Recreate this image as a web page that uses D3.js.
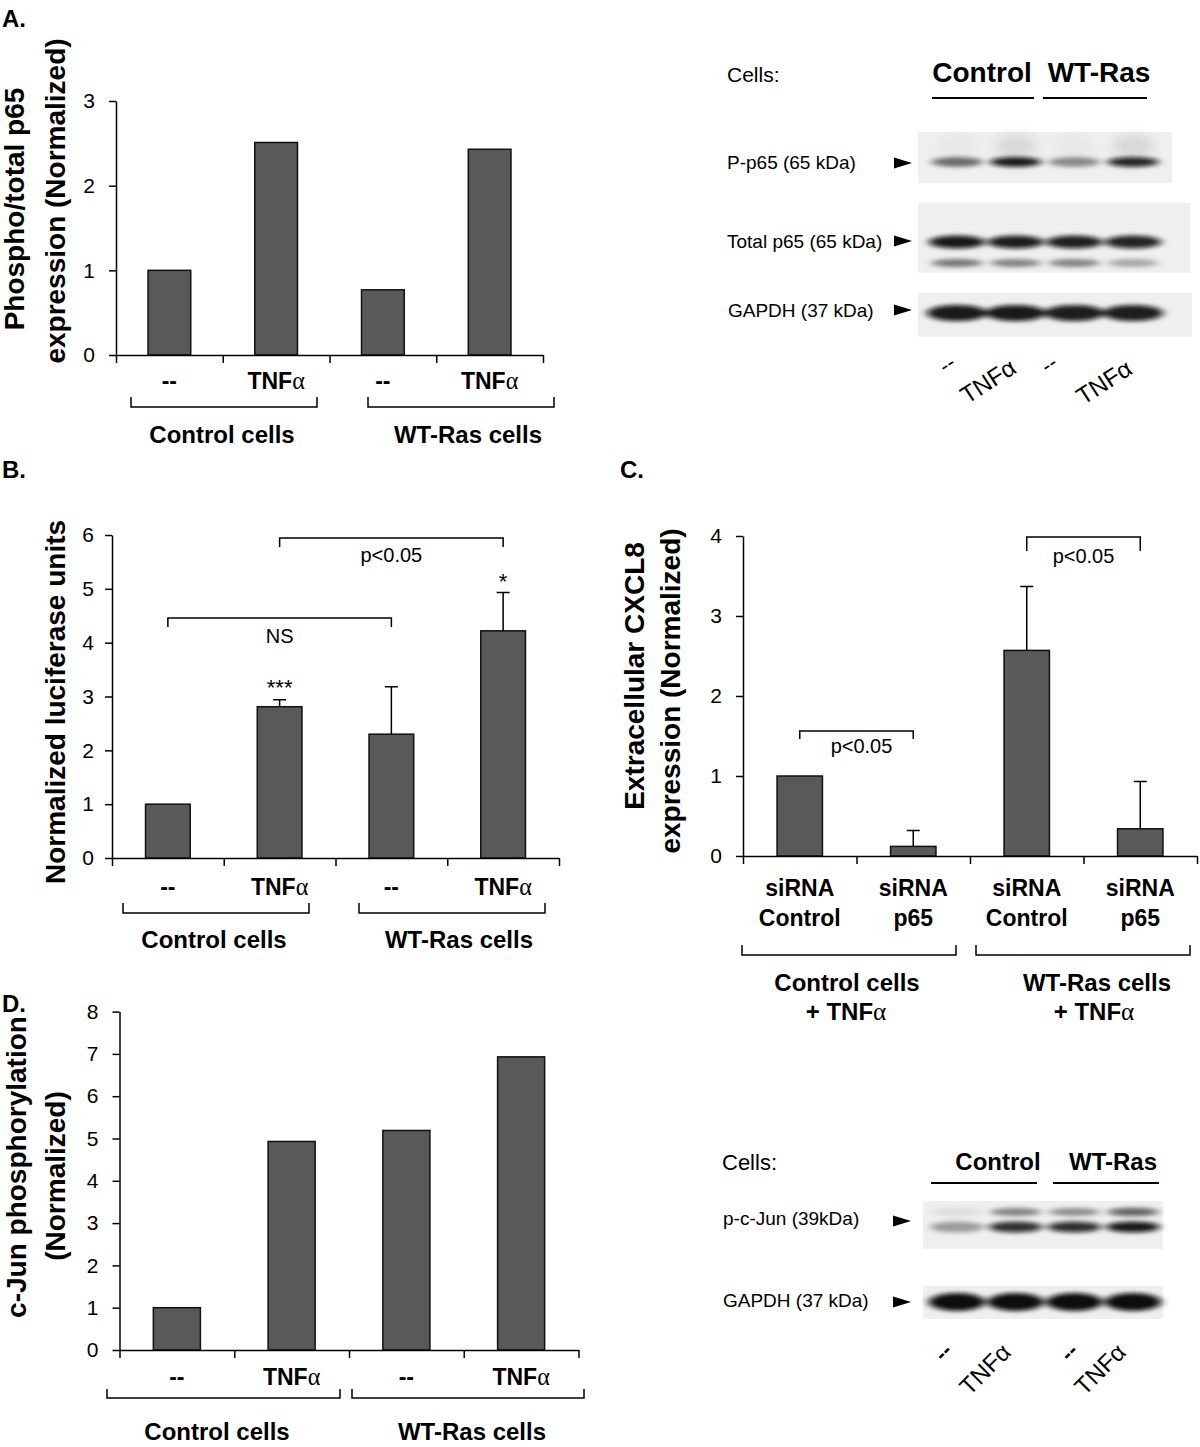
<!DOCTYPE html>
<html>
<head>
<meta charset="utf-8">
<script src="https://cdn.jsdelivr.net/npm/d3@7"></script>
<style>
body { margin: 0; background: #fff; }
svg { display: block; font-family: "Liberation Sans", Arial, Helvetica, sans-serif; }
.bar { fill: #595959; stroke: #111; stroke-width: 1.5; }
.axis path, .axis line { stroke: #000; stroke-width: 1.5; }
.rule { fill: none; stroke: #000; stroke-width: 1.5; }
</style>
</head>
<body>
<div id="fig"></div>
<script>
"use strict"

// ---- data ----
const treatments = ["--", "TNFα", "--", "TNFα"];
const cellGroups = ["Control cells", "WT-Ras cells"];
const sirnaTop = ["siRNA", "siRNA", "siRNA", "siRNA"];
const sirnaBottom = ["Control", "p65", "Control", "p65"];
const cxclGroups = [["Control  cells", "+ TNFα"], ["WT-Ras cells", "+ TNFα"]];

const phosphoP65 = [1.0, 2.51, 0.77, 2.43];
const ticksA = [0, 1, 2, 3];

const luciferase = [1.0, 2.81, 2.30, 4.22];
const luciferaseErr = [0, 0.13, 0.88, 0.71];
const ticksB = [0, 1, 2, 3, 4, 5, 6];

const cxcl8 = [1.0, 0.12, 2.57, 0.34];
const cxcl8Err = [0, 0.20, 0.80, 0.59];
const ticksC = [0, 1, 2, 3, 4];

const cJun = [1.0, 4.93, 5.19, 6.93];
const ticksD = [0, 1, 2, 3, 4, 5, 6, 7, 8];

// western blot band strength per lane (0 = none, 1 = black)
const lanes = ["Control --", "Control TNFα", "WT-Ras --", "WT-Ras TNFα"];
const blotCells = ["Control", "WT-Ras"];
const pp65Band = [0.55, 0.95, 0.42, 0.9];
const pp65Smear = [0.03, 0.1, 0.03, 0.1];
const totalP65Band = [0.95, 0.93, 0.92, 0.9];
const totalP65Lower = [0.5, 0.45, 0.45, 0.3];
const gapdhBandA = [0.95, 0.95, 0.93, 0.93];
const pcJunBand = [0.35, 0.85, 0.85, 0.95];
const pcJunUpper = [0.08, 0.45, 0.4, 0.65];
const gapdhBandD = [1, 1, 1, 1];

const width = 1200, height = 1447;

const svg = d3.select("#fig").append("svg")
    .attr("width", width)
    .attr("height", height);

svg.append("rect").attr("width", width).attr("height", height).attr("fill", "#fff");

const defs = svg.append("defs");
defs.append("filter").attr("id", "blur").attr("x", "-50%").attr("y", "-100%")
    .attr("width", "200%").attr("height", "300%")
    .append("feGaussianBlur").attr("stdDeviation", "4 2");
defs.append("filter").attr("id", "smear").attr("x", "-50%").attr("y", "-100%")
    .attr("width", "200%").attr("height", "300%")
    .append("feGaussianBlur").attr("stdDeviation", "6 6");

// bold labels: the alpha is set in a thin symbol-like face, as in the figure
function setBoldText(sel, txt) {
    if (txt.endsWith("α")) {
        sel.text(txt.slice(0, -1));
        sel.append("tspan")
            .attr("font-weight", "normal")
            .attr("font-family", "Liberation Serif, DejaVu Serif, serif")
            .attr("font-size", "1.05em")
            .text("α");
    } else {
        sel.text(txt);
    }
}

function label(x, y, txt, size, weight, anchor) {
    const t = svg.append("text")
        .attr("x", x).attr("y", y)
        .attr("font-size", size)
        .attr("font-weight", weight || "normal")
        .attr("text-anchor", anchor || "start");
    if (weight === "bold") setBoldText(t, txt);
    else t.text(txt);
    return t;
}

function yTitle(x, y, txt) {
    svg.append("text")
        .attr("transform", "translate(" + x + "," + y + ") rotate(-90)")
        .attr("text-anchor", "middle")
        .attr("font-size", 28)
        .attr("font-weight", "bold")
        .text(txt);
}

// bracket under the axis: └──┘
function groupBracket(x1, x2, y, h) {
    svg.append("path").attr("class", "rule")
        .attr("d", "M" + x1 + "," + (y - h) + "V" + y + "H" + x2 + "V" + (y - h));
}

// significance bracket: ┌──┐
function sigBracket(x1, x2, y, h, txt, tx, ty) {
    svg.append("path").attr("class", "rule")
        .attr("d", "M" + x1 + "," + (y + h) + "V" + y + "H" + x2 + "V" + (y + h));
    label(tx, ty, txt, 20, "normal", "middle");
}

function barChart(o) {
    const n = o.values.length;
    const x = d3.scaleBand().domain(d3.range(n))
        .range([o.left, o.right]).paddingInner(o.pad).paddingOuter(o.pad / 2);
    const y = d3.scaleLinear().domain([0, d3.max(o.ticks)]).range([o.zero, o.top]);
    const xb = d3.scaleLinear().domain([0, n]).range([o.left, o.right]);

    const g = svg.append("g");

    g.selectAll("rect.bar")
        .data(o.values)
        .join("rect")
        .attr("class", "bar")
        .attr("x", (d, i) => x(i))
        .attr("width", x.bandwidth())
        .attr("y", d => y(d))
        .attr("height", d => y(0) - y(d));

    if (o.err) {
        o.err.forEach((e, i) => {
            if (!e) return;
            const cx = x(i) + x.bandwidth() / 2;
            g.append("path").attr("class", "rule")
                .attr("d", "M" + cx + "," + y(o.values[i]) + "V" + y(o.values[i] + e) +
                    "M" + (cx - 6.5) + "," + y(o.values[i] + e) + "H" + (cx + 6.5));
        });
    }

    const ya = g.append("g").attr("class", "axis")
        .attr("transform", "translate(" + o.left + ",0)")
        .call(d3.axisLeft(y).tickValues(o.ticks).tickSize(7).tickSizeOuter(0)
            .tickPadding(o.tickPad).tickFormat(d3.format("d")));
    ya.selectAll("text").attr("font-size", 21).attr("fill", "#000")
        .attr("font-family", "Liberation Sans, Arial, sans-serif");

    g.append("g").attr("class", "axis")
        .attr("transform", "translate(0," + o.zero + ")")
        .call(d3.axisBottom(xb).tickValues(d3.range(n + 1)).tickSize(8).tickSizeOuter(0).tickFormat(""));

    // category labels
    o.cats.forEach((rows, r) => {
        g.selectAll(null).data(rows).join("text")
            .attr("x", (d, i) => x(i) + x.bandwidth() / 2)
            .attr("y", o.catY + r * 30)
            .attr("text-anchor", "middle")
            .attr("font-size", 23)
            .attr("font-weight", "bold")
            .each(function (d) { setBoldText(d3.select(this), d); });
    });

    return { x, y, xb };
}

// ================= Panel A =================
label(2, 27, "A.", 24, "bold");
const chartA = barChart({
    values: phosphoP65, ticks: ticksA, left: 116, right: 543, zero: 355, top: 101,
    pad: 0.6, tickPad: 14, cats: [treatments], catY: 389
});
yTitle(24, 209, "Phospho/total  p65");
yTitle(65, 201, "expression (Normalized)");
groupBracket(131, 317, 407, 10);
groupBracket(368, 554, 407, 10);
label(222, 443, cellGroups[0], 24, "bold", "middle");
label(468, 443, cellGroups[1], 24, "bold", "middle");

// ================= Western blots =================
function blot(o) {
    const lane = d3.scaleBand().domain(lanes).range([o.laneL, o.laneR]).paddingInner(0.08);
    o.rows.forEach(r => {
        svg.append("rect")
            .attr("x", r.x0).attr("y", r.y0)
            .attr("width", r.x1 - r.x0).attr("height", r.y1 - r.y0)
            .attr("fill", "#efefef");
        r.bands.forEach(b => {
            svg.append("g").attr("filter", b.smear ? "url(#smear)" : "url(#blur)")
                .selectAll("ellipse").data(b.values).join("ellipse")
                .attr("cx", (d, i) => lane(lanes[i]) + lane.bandwidth() / 2)
                .attr("cy", b.y)
                .attr("rx", lane.bandwidth() / 2 * b.w)
                .attr("ry", b.h / 2)
                .attr("fill", "#0a0a0a")
                .attr("fill-opacity", d => d);
        });
        label(r.lx, r.ly, r.name, o.fs, "normal");
        svg.append("path")
            .attr("d", "M" + o.arrowX + "," + (r.ay - 5.5) + "L" + (o.arrowX + 18) + "," + r.ay +
                "L" + o.arrowX + "," + (r.ay + 5.5) + "Z")
            .attr("fill", "#000");
    });
    // cell headers
    label(o.cellsX, o.headY, "Cells:", o.cellsFs, "normal");
    o.heads.forEach((h, i) => {
        label(h.x, o.headY, blotCells[i], o.headFs, "bold", "middle");
        svg.append("line").attr("x1", h.l1).attr("x2", h.l2)
            .attr("y1", o.lineY).attr("y2", o.lineY)
            .attr("stroke", "#000").attr("stroke-width", 2);
    });
    // lane labels
    lanes.forEach((ln, i) => {
        const p = o.laneLabels[i];
        svg.append("text")
            .attr("transform", "translate(" + p[0] + "," + p[1] + ") rotate(" + o.angle + ")")
            .attr("text-anchor", "middle")
            .attr("dominant-baseline", "central")
            .attr("font-size", i % 2 ? 24 : 22)
            .attr("font-weight", (i % 2 === 0 && o.dashBold) ? "bold" : "normal")
            .text(treatments[i]);
    });
}

blot({
    laneL: 930, laneR: 1160, fs: 19, arrowX: 894,
    cellsX: 727, cellsFs: 21, headY: 82, headFs: 28, lineY: 98,
    heads: [{ x: 982, l1: 932, l2: 1034 }, { x: 1099, l1: 1043, l2: 1147 }],
    angle: -33, dashBold: false,
    laneLabels: [[947, 364], [988, 381], [1049, 364], [1104, 382]],
    rows: [
        { name: "P-p65 (65 kDa)", x0: 918, x1: 1172, y0: 132, y1: 183, lx: 727, ly: 169, ay: 163,
            bands: [{ values: pp65Smear, y: 146, h: 22, w: 0.8, smear: true },
                { values: pp65Band, y: 162, h: 10, w: 0.95 }] },
        { name: "Total p65 (65 kDa)", x0: 918, x1: 1190, y0: 203, y1: 273, lx: 727, ly: 248, ay: 241,
            bands: [{ values: totalP65Band, y: 242, h: 13, w: 1.05 },
                { values: totalP65Lower, y: 263, h: 8, w: 0.95 }] },
        { name: "GAPDH  (37 kDa)", x0: 918, x1: 1192, y0: 293, y1: 337, lx: 728, ly: 317, ay: 310,
            bands: [{ values: gapdhBandA, y: 313, h: 16, w: 1.12 }] }
    ]
});

// ================= Panel B =================
label(2, 478, "B.", 24, "bold");
const chartB = barChart({
    values: luciferase, err: luciferaseErr, ticks: ticksB, left: 112, right: 559, zero: 858, top: 535,
    pad: 0.6, tickPad: 11, cats: [treatments], catY: 895
});
yTitle(65, 702, "Normalized luciferase units");
{
    const cx = i => chartB.x(i) + chartB.x.bandwidth() / 2;
    sigBracket(cx(0), cx(2), 618, 9, "NS", (cx(0) + cx(2)) / 2, 643);
    sigBracket(cx(1), cx(3), 538, 9, "p<0.05", (cx(1) + cx(3)) / 2, 562);
    label(cx(1), 695, "***", 22, "normal", "middle");
    label(cx(3), 589, "*", 22, "normal", "middle");
}
groupBracket(123, 309, 913, 10);
groupBracket(359, 545, 913, 10);
label(214, 948, cellGroups[0], 24, "bold", "middle");
label(459, 948, cellGroups[1], 24, "bold", "middle");

// ================= Panel C =================
label(620, 478, "C.", 24, "bold");
const chartC = barChart({
    values: cxcl8, err: cxcl8Err, ticks: ticksC, left: 743, right: 1197, zero: 856, top: 536,
    pad: 0.6, tickPad: 14, cats: [sirnaTop, sirnaBottom], catY: 896
});
yTitle(644, 676, "Extracellular CXCL8");
yTitle(680, 691, "expression (Normalized)");
{
    const cx = i => chartC.x(i) + chartC.x.bandwidth() / 2;
    sigBracket(cx(0), cx(1), 731, 8, "p<0.05", (cx(0) + cx(1)) / 2 + 5, 753);
    sigBracket(cx(2), cx(3), 537, 14, "p<0.05", (cx(2) + cx(3)) / 2, 563);
}
groupBracket(742, 956, 955, 10);
groupBracket(976, 1190, 955, 10);
label(847, 991, cxclGroups[0][0], 24, "bold", "middle");
label(846, 1020, cxclGroups[0][1], 24, "bold", "middle");
label(1097, 991, cxclGroups[1][0], 24, "bold", "middle");
label(1094, 1020, cxclGroups[1][1], 24, "bold", "middle");

// ================= Panel D =================
label(2, 1012, "D.", 24, "bold");
const chartD = barChart({
    values: cJun, ticks: ticksD, left: 119.5, right: 578.5, zero: 1350, top: 1011.6,
    pad: 0.59, tickPad: 14, cats: [treatments], catY: 1385
});
yTitle(26, 1167, "c-Jun phosphorylation");
yTitle(65, 1176, "(Normalized)");
groupBracket(107, 340, 1398, 9);
groupBracket(352, 584, 1398, 9);
label(217, 1440, cellGroups[0], 24, "bold", "middle");
label(472, 1440, cellGroups[1], 24, "bold", "middle");

blot({
    laneL: 930, laneR: 1160, fs: 19, arrowX: 893,
    cellsX: 722, cellsFs: 22, headY: 1170, headFs: 24, lineY: 1183,
    heads: [{ x: 998, l1: 931, l2: 1037 }, { x: 1113, l1: 1053, l2: 1159 }],
    angle: -45, dashBold: true,
    laneLabels: [[943, 1352], [985, 1369], [1069, 1352], [1100, 1369]],
    rows: [
        { name: "p-c-Jun (39kDa)", x0: 923, x1: 1163, y0: 1201, y1: 1249, lx: 723, ly: 1225, ay: 1221,
            bands: [{ values: pcJunBand, y: 1227, h: 11, w: 1.0 },
                { values: pcJunUpper, y: 1212, h: 8, w: 0.95 }] },
        { name: "GAPDH (37 kDa)", x0: 923, x1: 1163, y0: 1286, y1: 1319, lx: 723, ly: 1307, ay: 1302,
            bands: [{ values: gapdhBandD, y: 1302, h: 18, w: 1.05 }] }
    ]
});
</script>
</body>
</html>
